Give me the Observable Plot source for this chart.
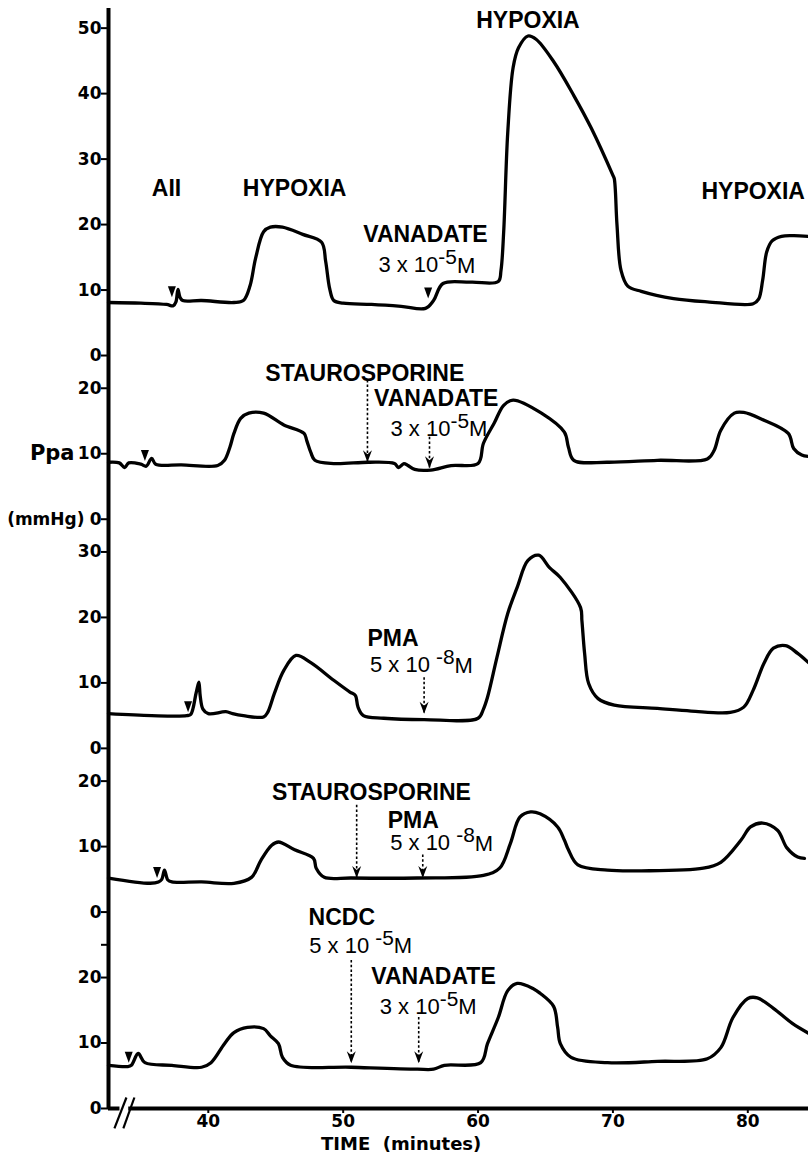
<!DOCTYPE html>
<html>
<head>
<meta charset="utf-8">
<script src="https://cdn.jsdelivr.net/npm/d3@7"></script>
<script src="https://cdn.jsdelivr.net/npm/@observablehq/plot@0.6"></script>
<style>
  html, body { margin: 0; padding: 0; background: #fff; overflow: hidden; }
  #chart svg { display: block; background: #fff; }
</style>
</head>
<body>
<div id="chart"></div>
<script>
// ---------- data (time in minutes, Ppa in mmHg) ----------
// vertical offsets of each stacked panel (mmHg units on the common scale)
const panelOffsets = [115, 90, 55, 30, 0];
const panelTicks = [[0, 10, 20, 30, 40, 50], [0, 10, 20], [0, 10, 20, 30], [0, 10, 20], [0, 10, 20]];
const extraTicks = [25];
const timeTicks = [40, 50, 60, 70, 80];
const timeDomain = [32.6, 84.5];

// Panel 1: AII, hypoxia, vanadate, hypoxia, hypoxia
const tracePanel1 = [[32.6,8.1],[35.0,8.0],[36.9,7.8],[37.4,7.6],[37.6,8.2],[37.75,10.1],[37.9,8.9],[38.1,8.4],[39.5,8.4],[41.9,8.1],[42.6,8.4],[43.1,10.7],[43.5,14.8],[44.1,18.9],[44.6,19.6],[45.5,19.6],[47.0,18.5],[48.4,17.3],[48.7,14.4],[49.0,10.2],[49.3,8.4],[50.0,8.0],[52.1,7.8],[54.3,7.5],[56.1,7.2],[56.7,8.4],[57.4,11.0],[59.5,11.2],[61.5,11.3],[61.7,13],[61.9,18.9],[62.2,34],[62.6,44],[63.0,47],[63.7,48.8],[64.3,48.3],[65.6,44.9],[67.1,39.7],[68.4,34.7],[70.0,27.5],[70.1,27],[70.3,20],[70.6,13],[71.1,10.6],[72.1,9.8],[74.5,8.7],[77.0,8.2],[80.4,7.9],[80.8,8.6],[81.1,11.5],[81.4,15.8],[81.8,17.5],[82.5,18.2],[83.4,18.3],[84.5,18.2]];
// Panel 2: staurosporine + vanadate
const tracePanel2 = [[32.6,8.7],[33.4,8.6],[33.8,7.9],[34.1,8.6],[35.0,8.4],[35.4,8.1],[35.8,9.3],[36.1,8.4],[38.0,8.3],[40.7,8.2],[41.2,9.0],[41.6,11],[41.9,13.1],[42.4,15.4],[43.0,16.2],[44.1,16.2],[45.6,14.4],[47.1,13.1],[47.3,12],[47.6,10.2],[47.9,9.0],[49.3,8.5],[51.9,8.7],[53.8,8.5],[54.1,7.9],[54.5,8.5],[54.8,8.2],[55.3,7.6],[56.5,7.5],[58.0,8.2],[60.0,8.5],[60.4,11.6],[61.2,14.7],[61.9,17.4],[62.6,18.2],[64.7,16.2],[66.4,13.3],[66.7,11.0],[67.1,9.0],[69.6,8.7],[73.3,9.0],[77.0,9.2],[77.5,10.5],[78.0,13.6],[79.0,16.2],[79.7,16.3],[81.0,15.3],[83.0,13.1],[83.4,10.8],[84.0,9.8],[84.5,9.6]];
// Panel 3: PMA
const tracePanel3 = [[32.6,5.3],[35.8,5.0],[38.4,5.0],[38.7,5.2],[39.1,8.5],[39.3,10.1],[39.4,8.0],[39.6,6.0],[40.0,5.3],[41.3,5.6],[41.8,5.3],[42.6,5.0],[44.1,4.8],[44.4,5.5],[44.9,8.4],[45.6,11.9],[46.5,14.2],[47.6,13.1],[49.3,10.4],[50.5,8.6],[50.9,8.1],[51.1,6.3],[51.5,5.0],[53.0,4.6],[56.0,4.4],[60.0,4.6],[60.4,6.0],[60.7,7.8],[61.4,13.9],[62.2,20.6],[62.9,24.6],[63.7,28.7],[64.5,29.5],[65.3,27.6],[66.1,26.1],[67.6,21.5],[67.7,19.5],[67.9,14.5],[68.2,9.9],[68.9,7.6],[70.1,6.6],[73.3,6.1],[75.8,5.7],[78.7,5.5],[79.7,6.3],[80.4,8.9],[81.2,13.0],[81.9,15.3],[82.8,15.7],[83.7,14.5],[84.5,13.1]];
// Panel 4: staurosporine + PMA
const tracePanel4 = [[32.6,5.2],[35.7,4.4],[36.3,4.6],[36.55,5.0],[36.75,6.4],[37.0,4.9],[37.3,4.6],[39.5,4.6],[41.9,4.4],[43.2,5.3],[43.9,7.9],[44.7,10.2],[45.2,10.7],[46.4,9.5],[47.8,8.2],[48.0,6.7],[48.6,5.3],[50.6,5.2],[55.5,5.2],[60.4,5.6],[61.6,6.7],[62.4,10.5],[63.1,14.5],[63.9,15.3],[64.6,15.0],[65.9,13.0],[66.4,11.0],[66.7,9.5],[67.4,7.2],[69.6,6.4],[72.1,6.3],[76.7,6.7],[78.0,7.6],[79.5,11.0],[80.2,13.0],[81.1,13.6],[82.2,12.5],[82.9,9.8],[83.7,8.4],[84.2,8.2]];
// Panel 5: NCDC + vanadate
const tracePanel5 = [[32.6,6.6],[34.0,6.4],[34.3,6.6],[34.8,8.4],[35.3,7.0],[37.3,6.6],[39.5,6.3],[40.2,7.0],[41.2,9.9],[41.9,11.6],[42.9,12.4],[44.1,12.2],[44.6,11.1],[45.2,9.9],[45.5,7.8],[46.1,6.6],[50.6,6.3],[55.5,6.0],[56.7,6.0],[57.5,6.6],[60.2,7.0],[60.7,9.9],[61.5,13.9],[62.2,18.0],[62.9,19.1],[64.1,18.3],[64.6,17.6],[65.6,15.6],[65.9,12.4],[66.1,9.9],[66.9,7.8],[69.6,7.0],[73.3,7.2],[77.0,7.6],[78.0,9.3],[78.9,13.9],[80.0,16.8],[80.7,16.9],[81.9,15.3],[83.3,13.0],[84.5,11.5]];
const traces = [tracePanel1, tracePanel2, tracePanel3, tracePanel4, tracePanel5];

// solid injection markers (panel, time, Ppa at tip)
const injectionMarkers = [
  {panel: 0, t: 37.3, v: 8.9}, {panel: 0, t: 56.3, v: 8.7},
  {panel: 1, t: 35.3, v: 8.9}, {panel: 2, t: 38.5, v: 5.5},
  {panel: 3, t: 36.2, v: 5.2}, {panel: 4, t: 34.1, v: 7.0}
];
// dotted drug arrows (panel, time, from, to)
const drugArrows = [
  {panel: 1, t: 51.8, from: 21.2, to: 8.7}, {panel: 1, t: 56.4, from: 12.5, to: 7.8},
  {panel: 2, t: 56.0, from: 10.8, to: 5.3},
  {panel: 3, t: 51.0, from: 16.3, to: 5.2}, {panel: 3, t: 55.9, from: 8.7, to: 5.2},
  {panel: 4, t: 50.6, from: 22.6, to: 6.9}, {panel: 4, t: 55.6, from: 13.9, to: 6.9}
];
const boldLabels = [
  {panel: 0, t: 36.9, v: 25.5, text: "AII"},
  {panel: 0, t: 46.4, v: 25.5, text: "HYPOXIA"},
  {panel: 0, t: 63.7, v: 51.1, text: "HYPOXIA"},
  {panel: 0, t: 80.4, v: 25.0, text: "HYPOXIA"},
  {panel: 0, t: 56.1, v: 18.4, text: "VANADATE"},
  {panel: 1, t: 51.6, v: 22.3, text: "STAUROSPORINE"},
  {panel: 1, t: 56.9, v: 18.4, text: "VANADATE"},
  {panel: 2, t: 53.7, v: 16.8, text: "PMA"},
  {panel: 3, t: 52.1, v: 18.3, text: "STAUROSPORINE"},
  {panel: 3, t: 55.2, v: 14.0, text: "PMA"},
  {panel: 4, t: 49.9, v: 29.2, text: "NCDC"},
  {panel: 4, t: 56.7, v: 20.1, text: "VANADATE"}
];
const doseLabels = [
  {panel: 0, t: 56.2, v: 13.8, text: "3 x 10^-5^M"},
  {panel: 1, t: 57.1, v: 13.8, text: "3 x 10^-5^M"},
  {panel: 2, t: 55.8, v: 12.7, text: "5 x 10 ^-8^M"},
  {panel: 3, t: 57.3, v: 10.5, text: "5 x 10 ^-8^M"},
  {panel: 4, t: 51.3, v: 24.9, text: "5 x 10 ^-5^M"},
  {panel: 4, t: 56.3, v: 15.5, text: "3 x 10^-5^M"}
];
const xAxisSegments = [{from: 32.6, to: 33.45}, {from: 34.1, to: 84.5}];
const axisBreak = [{t1: 33.04, v1: -3.05, t2: 33.93, v2: 1.68}, {t1: 33.70, v1: -3.05, t2: 34.52, v2: 1.68}];

// ---------- build ----------
const rows = [];
traces.forEach((tr, i) => tr.forEach(([t, v]) => rows.push({panel: i, t, y: panelOffsets[i] + v})));
const tickLabel = new Map();
panelTicks.forEach((ts, i) => ts.forEach(v => tickLabel.set(panelOffsets[i] + v, String(v))));
extraTicks.forEach(v => tickLabel.set(v, ""));
const yTicks = Array.from(tickLabel.keys());
const gy = d => panelOffsets[d.panel] + d.v;

const markerSymbol = {draw(ctx) { ctx.moveTo(0, 0); ctx.lineTo(-4, -11); ctx.lineTo(4, -11); ctx.closePath(); }};
const headSymbol = {draw(ctx) { ctx.moveTo(0, 0); ctx.lineTo(-4.5, -12); ctx.lineTo(0, -8); ctx.lineTo(4.5, -12); ctx.closePath(); }};

const chart = Plot.plot({
  width: 808, height: 1155,
  marginLeft: 108, marginRight: 0, marginTop: 8, marginBottom: 47,
  x: {domain: timeDomain, axis: null, label: null},
  y: {domain: [0, 168], axis: null, label: null},
  marks: [
    Plot.line(rows, {x: "t", y: "y", z: "panel", stroke: "black", strokeWidth: 3.3, curve: "catmull-rom", strokeLinejoin: "round", strokeLinecap: "round"}),
    Plot.dot(injectionMarkers, {x: "t", y: gy, symbol: markerSymbol, fill: "black", stroke: "none"}),
    Plot.ruleX(drugArrows, {x: "t", y1: d => panelOffsets[d.panel] + d.from, y2: d => panelOffsets[d.panel] + d.to, stroke: "black", strokeWidth: 1.6, strokeDasharray: "2.5,2.2"}),
    Plot.dot(drugArrows, {x: "t", y: d => panelOffsets[d.panel] + d.to, symbol: headSymbol, fill: "black", stroke: "none"}),
    Plot.text(boldLabels, {x: "t", y: gy, text: "text", fontFamily: "Liberation Sans", fontWeight: "bold", fontSize: 23, fill: "black"}),
    Plot.text(doseLabels, {x: "t", y: gy, text: "text", fontFamily: "Liberation Sans", fontSize: 22, fill: "black"}),
    Plot.ruleX([timeDomain[0]], {y1: 0, y2: 168, stroke: "black", strokeWidth: 4}),
    Plot.ruleY(xAxisSegments, {y: () => 0, x1: "from", x2: "to", stroke: "black", strokeWidth: 4}),
    Plot.link(axisBreak, {x1: "t1", y1: "v1", x2: "t2", y2: "v2", stroke: "black", strokeWidth: 2.2}),
    Plot.axisY({ticks: yTicks, tickFormat: d => tickLabel.get(d), tickSize: 7, tickPadding: 0, fontSize: 17, fontWeight: "bold", fontFamily: "DejaVu Sans", strokeWidth: 2, label: null}),
    Plot.axisX({ticks: timeTicks, tickSize: 5, tickPadding: 1, fontSize: 17, fontWeight: "bold", fontFamily: "DejaVu Sans", strokeWidth: 2, label: null}),
    Plot.text(["Ppa"], {x: () => timeDomain[0], y: () => panelOffsets[1] + 10, dx: -34, textAnchor: "end", fontFamily: "DejaVu Sans", fontWeight: "bold", fontSize: 21}),
    Plot.text(["(mmHg)"], {x: () => timeDomain[0], y: () => panelOffsets[1], dx: -24, textAnchor: "end", fontFamily: "DejaVu Sans", fontWeight: "bold", fontSize: 17}),
    Plot.text(["TIME  (minutes)"], {x: () => 54.3, frameAnchor: "bottom", lineAnchor: "middle", dy: 36, fontFamily: "DejaVu Sans", fontWeight: "bold", fontSize: 18})
  ]
});

// superscripts: "base^sup^rest"
chart.querySelectorAll("text").forEach(el => {
  const s = el.textContent;
  if (!s.includes("^")) return;
  const [base, sup, rest] = s.split("^");
  el.textContent = "";
  el.appendChild(document.createTextNode(base));
  const ns = "http://www.w3.org/2000/svg";
  const t1 = document.createElementNS(ns, "tspan");
  t1.setAttribute("dy", "-0.38em"); t1.setAttribute("font-size", "0.95em"); t1.textContent = sup;
  const t2 = document.createElementNS(ns, "tspan");
  t2.setAttribute("dy", "0.38em"); t2.textContent = rest;
  el.appendChild(t1); el.appendChild(t2);
});
document.getElementById("chart").appendChild(chart);
</script>
</body>
</html>
